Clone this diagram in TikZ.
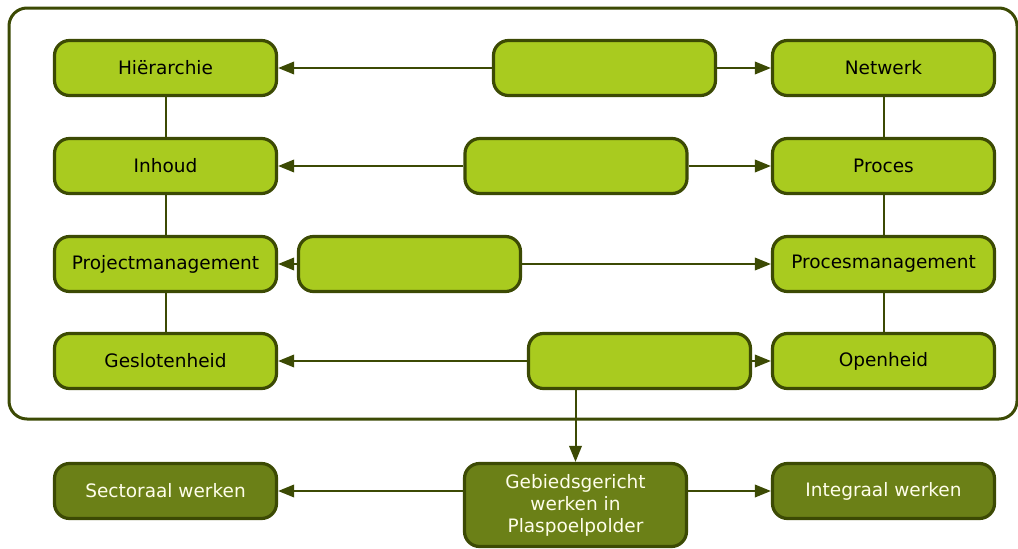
\documentclass[tikz,border=0pt]{standalone}
\usepackage{fontspec}
\setmainfont{DejaVu Sans}
\usetikzlibrary{arrows.meta}
\definecolor{leaf}{HTML}{A9CB1F}
\definecolor{moss}{HTML}{6B8017}
\definecolor{rim}{HTML}{3C4A04}
\begin{document}
\begin{tikzpicture}[x=1pt,y=-1pt,
  box/.style={draw=rim, line width=3.2pt, rounded corners=15pt, fill=leaf,
    minimum width=222pt, minimum height=55pt, inner sep=0pt,
    font=\fontsize{18.5}{22}\selectfont, text=black},
  darkbox/.style={box, fill=moss, text=white!92!yellow, align=center,
    font=\fontsize{18.5}{22}\selectfont},
  link/.style={draw=rim, line width=2pt},
  arr/.style={link, -{Triangle[length=16pt,width=12.5pt]}}]
\useasboundingbox (0,0) rectangle (1018,549);
% outer frame
\draw[rim, line width=3pt, rounded corners=18pt] (9,8) rectangle (1017,419);
% left column
\node[box] (hier) at (165.5,68) {Hiërarchie};
\node[box] (inh) at (165.5,166) {Inhoud};
\node[box] (pm) at (165.5,264) {Projectmanagement};
\node[box] (gesl) at (165.5,361) {Geslotenheid};
% right column
\node[box] (netw) at (883.5,68) {Netwerk};
\node[box] (proc) at (883.5,166) {Proces};
\node[box] (prm) at (883.5,264) {Procesmanagement};
\node[box] (open) at (883.5,361) {Openheid};
% middle boxes
\node[box] (m1) at (604.5,68) {};
\node[box] (m2) at (576,166) {};
\node[box] (m3) at (409.5,264) {};
\node[box] (m4) at (639.5,361) {};
% bottom row
\node[darkbox] (sect) at (165.5,491) {Sectoraal werken};
\node[darkbox, minimum height=83pt] (geb) at (575.5,505) {Gebiedsgericht\\werken in\\Plaspoelpolder};
\node[darkbox] (integ) at (883.5,491) {Integraal werken};
% column links
\draw[link] (hier) -- (inh);
\draw[link] (inh) -- (pm);
\draw[link] (pm) -- (gesl);
\draw[link] (netw) -- (proc);
\draw[link] (proc) -- (prm);
\draw[link] (prm) -- (open);
% arrows
\draw[arr] (m1) -- (hier);
\draw[arr] (m1) -- (netw);
\draw[arr] (m2) -- (inh);
\draw[arr] (m2) -- (proc);
\draw[arr] (m3) -- (pm);
\draw[arr] (m3) -- (prm);
\draw[arr] (m4) -- (gesl);
\draw[arr] (m4) -- (open);
\draw[arr] (m4.south -| geb.north) -- (geb.north);
\draw[arr] (geb.west |- sect.east) -- (sect);
\draw[arr] (geb.east |- integ.west) -- (integ);
\end{tikzpicture}
\end{document}
